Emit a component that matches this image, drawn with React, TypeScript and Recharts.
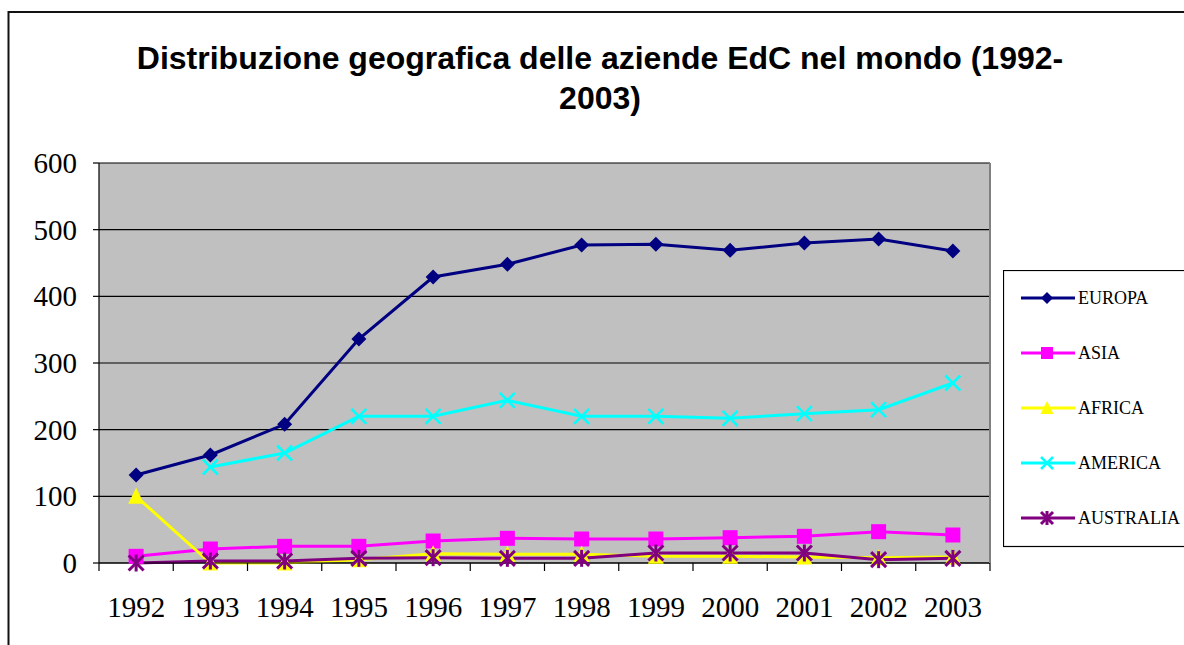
import React from 'react';
import { LineChart, Line, XAxis, YAxis, CartesianGrid, Legend } from 'recharts';

const years = ['1992', '1993', '1994', '1995', '1996', '1997', '1998', '1999', '2000', '2001', '2002', '2003'];
const europa = [132, 162, 208, 336, 429, 448, 477, 478, 469, 480, 486, 468];
const asia = [10, 21, 25, 25, 33, 37, 36, 36, 38, 40, 47, 42];
const africa = [100, 0, 0, 5, 14, 13, 13, 10, 10, 9, 8, 9];
const america = [null, 144, 165, 220, 220, 244, 220, 220, 217, 224, 230, 270];
const australia = [0, 3, 3, 7, 8, 7, 7, 15, 15, 15, 5, 7];
const yTicks = [0, 100, 200, 300, 400, 500, 600];

const data = years.map((year, i) => ({
  year,
  EUROPA: europa[i],
  ASIA: asia[i],
  AFRICA: africa[i],
  AMERICA: america[i],
  AUSTRALIA: australia[i],
}));

const SERIF = '"Liberation Serif", "Times New Roman", serif';
const SANS = '"Liberation Sans", Arial, sans-serif';

type MarkerKind = 'diamond' | 'square' | 'triangle' | 'cross' | 'star';

const series: { key: string; color: string; marker: MarkerKind }[] = [
  { key: 'EUROPA', color: '#000080', marker: 'diamond' },
  { key: 'ASIA', color: '#ff00ff', marker: 'square' },
  { key: 'AFRICA', color: '#ffff00', marker: 'triangle' },
  { key: 'AMERICA', color: '#00ffff', marker: 'cross' },
  { key: 'AUSTRALIA', color: '#800080', marker: 'star' },
];

function Marker({ kind, cx, cy, color, r }: { kind: MarkerKind; cx: number; cy: number; color: string; r: number }) {
  switch (kind) {
    case 'diamond':
      return <polygon points={`${cx},${cy - r} ${cx + r},${cy} ${cx},${cy + r} ${cx - r},${cy}`} fill={color} />;
    case 'square':
      return <rect x={cx - r} y={cy - r} width={r * 2} height={r * 2} fill={color} />;
    case 'triangle':
      return <polygon points={`${cx},${cy - r - 1} ${cx + r + 0.5},${cy + r} ${cx - r - 0.5},${cy + r}`} fill={color} />;
    case 'cross':
      return (
        <g stroke={color} strokeWidth={2.5}>
          <line x1={cx - r} y1={cy - r} x2={cx + r} y2={cy + r} />
          <line x1={cx - r} y1={cy + r} x2={cx + r} y2={cy - r} />
        </g>
      );
    case 'star':
      return (
        <g stroke={color} strokeWidth={3}>
          <line x1={cx - r} y1={cy - r} x2={cx + r} y2={cy + r} />
          <line x1={cx - r} y1={cy + r} x2={cx + r} y2={cy - r} />
          <line x1={cx} y1={cy - r - 1} x2={cx} y2={cy + r + 1} />
        </g>
      );
  }
}

const makeDot = (kind: MarkerKind, color: string) => (props: any) => {
  const { cx, cy, index, value } = props;
  if (value == null || cx == null || cy == null) return <g key={index} />;
  return <Marker key={index} kind={kind} cx={cx} cy={cy} color={color} r={7.5} />;
};

// year labels, with the tick marks sitting between categories (Excel style)
const YearTick = (props: any) => {
  const { x, y, payload, index, visibleTicksCount } = props;
  const half = payload.offset ?? 0;
  const last = index === visibleTicksCount - 1;
  return (
    <g>
      <line x1={x - half} y1={y} x2={x - half} y2={y + 8} stroke="#000" strokeWidth={1.2} />
      {last && <line x1={x + half} y1={y} x2={x + half} y2={y + 8} stroke="#000" strokeWidth={1.2} />}
      <text x={x} y={y + 54} textAnchor="middle" style={{ fontFamily: SERIF, fontSize: 29 }} fill="#000">
        {payload.value}
      </text>
    </g>
  );
};

const ValueTick = (props: any) => {
  const { x, y, payload } = props;
  return (
    <text x={x} y={y + 10} textAnchor="end" style={{ fontFamily: SERIF, fontSize: 29 }} fill="#000">
      {payload.value}
    </text>
  );
};

const LegendBox = () => (
  <svg width={200} height={278} style={{ display: 'block' }}>
    <rect x={0.5} y={0.5} width={240} height={276} fill="#fff" stroke="#000" strokeWidth={1.2} />
    {series.map((s, i) => {
      const cy = 28 + i * 55;
      return (
        <g key={s.key}>
          <line x1={18} y1={cy} x2={72} y2={cy} stroke={s.color} strokeWidth={3} />
          <Marker kind={s.marker} cx={44} cy={cy} color={s.color} r={6} />
          <text x={75} y={cy + 6} style={{ fontFamily: SERIF, fontSize: 18 }} fill="#000">
            {s.key}
          </text>
        </g>
      );
    })}
  </svg>
);

export default function App() {
  return (
    <div style={{ position: 'fixed', left: 0, top: 0, width: 1184, height: 645, overflow: 'hidden', background: '#fff' }}>
      <svg width={1184} height={645} style={{ position: 'absolute', left: 0, top: 0 }}>
        <rect x={8.5} y={12} width={1400} height={1000} fill="none" stroke="#111" strokeWidth={2} />
        <text x={600} y={69} textAnchor="middle" style={{ fontFamily: SANS, fontWeight: 'bold', fontSize: 32 }} fill="#000">
          Distribuzione geografica delle aziende EdC nel mondo (1992-
        </text>
        <text x={600} y={109} textAnchor="middle" style={{ fontFamily: SANS, fontWeight: 'bold', fontSize: 32 }} fill="#000">
          2003)
        </text>
      </svg>
      <div style={{ position: 'absolute', left: 0, top: 0 }}>
        <LineChart width={1184} height={645} data={data} margin={{ top: 163, right: 193, bottom: 22, left: 39 }}>
          <CartesianGrid vertical={false} fill="#c0c0c0" stroke="#000" strokeWidth={1.2} />
          <XAxis
            dataKey="year"
            scale="band"
            height={60}
            tickLine={false}
            tickSize={0}
            tickMargin={0}
            axisLine={{ stroke: '#000', strokeWidth: 1.2 }}
            tick={<YearTick />}
            interval={0}
          />
          <YAxis
            domain={[0, 600]}
            ticks={yTicks}
            width={60}
            tickSize={6}
            tickMargin={16}
            axisLine={{ stroke: '#000', strokeWidth: 1.2 }}
            tickLine={{ stroke: '#000', strokeWidth: 1.2 }}
            tick={<ValueTick />}
          />
          <YAxis
            yAxisId="frame"
            orientation="right"
            domain={[0, 600]}
            width={1}
            tick={false}
            tickLine={false}
            axisLine={{ stroke: '#808080', strokeWidth: 2 }}
          />
          <Legend
            layout="horizontal"
            verticalAlign="middle"
            align="center"
            content={<LegendBox />}
            wrapperStyle={{ left: 1003, top: 270, width: 200, height: 278, margin: 0 }}
          />
          {series.map((s) => (
            <Line
              key={s.key}
              dataKey={s.key}
              stroke={s.color}
              strokeWidth={3}
              dot={makeDot(s.marker, s.color)}
              activeDot={false}
              isAnimationActive={false}
            />
          ))}
        </LineChart>
      </div>
    </div>
  );
}
